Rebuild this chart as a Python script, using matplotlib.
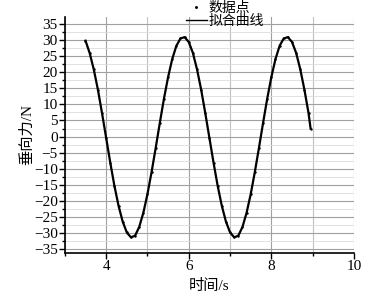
import matplotlib
matplotlib.use("Agg")
import matplotlib.pyplot as plt
from matplotlib.ticker import MultipleLocator

plt.rcParams['font.family'] = ['Liberation Serif', 'Noto Sans CJK SC', 'DejaVu Sans']
plt.rcParams['axes.unicode_minus'] = True

# time (s) and vertical force (N)
t = [3.5, 3.6, 3.7, 3.8, 3.9, 4.0, 4.1, 4.2, 4.3, 4.4, 4.5, 4.6, 4.7, 4.8, 4.9,
     5.0, 5.1, 5.2, 5.3, 5.4, 5.5, 5.6, 5.7, 5.8, 5.9,
     6.0, 6.1, 6.2, 6.3, 6.4, 6.5, 6.6, 6.7, 6.8, 6.9, 7.0, 7.1, 7.2, 7.3, 7.4,
     7.5, 7.6, 7.7, 7.8, 7.9, 8.0, 8.1, 8.2, 8.3, 8.4,
     8.5, 8.6, 8.7, 8.8, 8.9, 8.95]
force = [29.8, 26.0, 20.9, 14.6, 7.3, -0.4, -8.1, -15.3, -21.5, -26.4, -29.8, -31.3, -30.8, -28.1, -23.7,
         -17.9, -11.0, -3.5, 4.3, 11.8, 18.5, 24.1, 28.2, 30.5, 30.9,
         29.4, 26.0, 20.9, 14.6, 7.3, -0.4, -8.1, -15.3, -21.5, -26.4, -29.8, -31.3, -30.8, -28.1, -23.7,
         -17.9, -11.0, -3.5, 4.3, 11.8, 18.5, 24.1, 28.2, 30.5, 30.9,
         29.4, 26.0, 20.9, 14.6, 7.3, 2.5]

fig = plt.figure(figsize=(3.86, 2.96), dpi=100)
ax = fig.add_axes([0.168, 0.145, 0.749, 0.798])

ax.plot(t, force, linestyle='none', marker='.', markersize=1.5, color='black', label='数据点')
ax.plot(t, force, color='black', linewidth=1.6, label='拟合曲线')

ax.set_xlim(3, 10)
ax.set_ylim(-36.2, 37.2)
ax.xaxis.set_major_locator(MultipleLocator(2))
ax.xaxis.set_minor_locator(MultipleLocator(1))
ax.set_yticks(range(-35, 36, 5))
ax.yaxis.set_minor_locator(MultipleLocator(2.5))

ax.grid(which='major', color='#a0a0a0', linewidth=0.8)
ax.grid(which='minor', axis='x', color='#c0c0c0', linewidth=0.8)
ax.grid(which='minor', axis='y', color='#dddddd', linewidth=0.6)
ax.set_axisbelow(True)

for s in ['top', 'right']:
    ax.spines[s].set_visible(False)
ax.spines['left'].set_linewidth(1.2)
ax.spines['bottom'].set_linewidth(1.2)
ax.tick_params(which='major', direction='out', length=4, width=1, labelsize=11, pad=1)
ax.tick_params(which='minor', direction='out', length=2.5, width=1)

ax.set_xlabel('时间/s', fontsize=11, labelpad=4)
ax.set_ylabel('垂向力/N', fontsize=11, labelpad=0)

leg = ax.legend(loc='upper left', bbox_to_anchor=(186 / 386, 1 - 2 / 296), bbox_transform=fig.transFigure,
                frameon=False, fontsize=10, handlelength=1.5, handletextpad=0.15,
                labelspacing=0.0, borderpad=0, borderaxespad=0, markerscale=1.5)
leg.get_lines()[1].set_linewidth(1.0)

fig.savefig('out.png', dpi=100)
